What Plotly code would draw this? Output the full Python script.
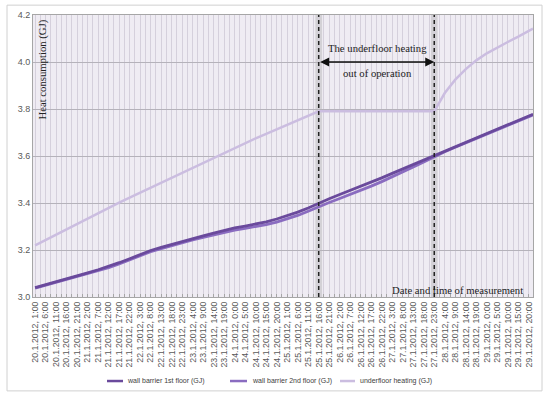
import plotly.graph_objects as go

# ---- data ----
tick_labels = [
    "20.1.2012, 1:00", "20.1.2012, 6:00", "20.1.2012, 11:00", "20.1.2012, 16:00", "20.1.2012, 21:00",
    "21.1.2012, 2:00", "21.1.2012, 7:00", "21.1.2012, 12:00", "21.1.2012, 17:00", "21.1.2012, 22:00",
    "22.1.2012, 3:00", "22.1.2012, 8:00", "22.1.2012, 13:00", "22.1.2012, 18:00", "22.1.2012, 23:00",
    "23.1.2012, 4:00", "23.1.2012, 9:00", "23.1.2012, 14:00", "23.1.2012, 19:00", "24.1.2012, 0:00",
    "24.1.2012, 5:00", "24.1.2012, 10:00", "24.1.2012, 15:00", "24.1.2012, 20:00", "25.1.2012, 1:00",
    "25.1.2012, 6:00", "25.1.2012, 11:00", "25.1.2012, 16:00", "25.1.2012, 21:00", "26.1.2012, 2:00",
    "26.1.2012, 7:00", "26.1.2012, 12:00", "26.1.2012, 17:00", "26.1.2012, 22:00", "27.1.2012, 3:00",
    "27.1.2012, 8:00", "27.1.2012, 13:00", "27.1.2012, 18:00", "27.1.2012, 23:00", "28.1.2012, 4:00",
    "28.1.2012, 9:00", "28.1.2012, 14:00", "28.1.2012, 19:00", "29.1.2012, 0:00", "29.1.2012, 5:00",
    "29.1.2012, 10:00", "29.1.2012, 15:00", "29.1.2012, 20:00",
]
tick_hours = [0, 5, 10, 15, 20, 25, 30, 35, 40, 45, 50, 55, 60, 65, 70, 75, 80, 85, 90, 95,
              100, 105, 110, 115, 120, 125, 130, 135, 140, 145, 150, 155, 160, 165, 170, 175,
              180, 185, 190, 195, 200, 205, 210, 215, 220, 225, 230, 235]

# hours since 20.1.2012 1:00 for the sampled measurements
hours = tick_hours + [237]

wall_1st = [3.040, 3.052, 3.065, 3.078, 3.090, 3.103, 3.116, 3.130, 3.146, 3.163,
            3.181, 3.198, 3.211, 3.224, 3.236, 3.248, 3.260, 3.272, 3.284, 3.294,
            3.302, 3.310, 3.320, 3.332, 3.346, 3.361, 3.379, 3.400, 3.418, 3.436,
            3.453, 3.470, 3.488, 3.507, 3.526, 3.545, 3.564, 3.583, 3.602, 3.621,
            3.640, 3.659, 3.678, 3.697, 3.716, 3.735, 3.754, 3.771, 3.778]
wall_2nd = [3.038, 3.050, 3.062, 3.074, 3.086, 3.098, 3.111, 3.125, 3.141, 3.158,
            3.176, 3.193, 3.206, 3.219, 3.231, 3.243, 3.254, 3.265, 3.276, 3.285,
            3.292, 3.299, 3.308, 3.319, 3.332, 3.347, 3.365, 3.385, 3.402, 3.419,
            3.436, 3.454, 3.472, 3.491, 3.511, 3.532, 3.553, 3.575, 3.598, 3.618,
            3.637, 3.656, 3.675, 3.694, 3.713, 3.732, 3.751, 3.768, 3.775]
underfloor = [3.220, 3.243, 3.266, 3.289, 3.312, 3.334, 3.357, 3.380, 3.402, 3.423,
              3.444, 3.465, 3.486, 3.507, 3.528, 3.549, 3.570, 3.594, 3.614, 3.634,
              3.655, 3.675, 3.694, 3.713, 3.733, 3.752, 3.771, 3.790, 3.790, 3.790,
              3.790, 3.790, 3.790, 3.790, 3.790, 3.790, 3.790, 3.790, 3.790, 3.868,
              3.925, 3.970, 4.007, 4.037, 4.062, 4.085, 4.108, 4.130, 4.142]

legend_names = ["wall barrier 1st floor (GJ)", "wall barrier 2nd floor (GJ)", "underfloor heating (GJ)"]

off_start, off_end = 135, 190  # underfloor heating out of operation

c1 = "#6a4a9c"
c2 = "#8a6cc0"
c3 = "#cbbde0"
colors = [c1, c2, c3]

fig = go.Figure()
fig.add_trace(go.Scatter(x=hours, y=underfloor, mode="lines", name=legend_names[2],
                         line=dict(color=c3, width=2.5)))
fig.add_trace(go.Scatter(x=hours, y=wall_2nd, mode="lines", name=legend_names[1],
                         line=dict(color=c2, width=2.8)))
fig.add_trace(go.Scatter(x=hours, y=wall_1st, mode="lines", name=legend_names[0],
                         line=dict(color=c1, width=2.8)))

shapes = [
    # outer frame
    dict(type="rect", xref="paper", yref="paper", x0=-0.052, x1=1.018, y0=-0.333, y1=1.035,
         line=dict(color="#d0d0d0", width=1), fillcolor="rgba(0,0,0,0)", layer="below"),
]
for h in (off_start, off_end):
    shapes.append(dict(type="rect", xref="x", yref="paper", x0=h - 1.6, x1=h + 1.6, y0=0, y1=1,
                       fillcolor="rgba(170,170,170,0.4)", line=dict(width=0), layer="below"))
    shapes.append(dict(type="line", xref="x", yref="paper", x0=h, x1=h, y0=0, y1=1,
                       line=dict(color="#222222", width=1.5, dash="4px,3px"), layer="above"))

# manual legend (short line samples like the original)
leg_y = -0.298
leg_line_x = [(0.148, 0.180), (0.394, 0.428), (0.614, 0.644)]
leg_text_x = [0.184, 0.434, 0.650]
for (x0, x1), col in zip(leg_line_x, colors):
    shapes.append(dict(type="line", xref="paper", yref="paper", x0=x0, x1=x1, y0=leg_y, y1=leg_y,
                       line=dict(color=col, width=2.5)))
fig.update_layout(shapes=shapes)
for tx, name in zip(leg_text_x, legend_names):
    fig.add_annotation(x=tx, y=leg_y, xref="paper", yref="paper", text=name, showarrow=False,
                       xanchor="left", yanchor="middle",
                       font=dict(family="Liberation Sans, Arial, sans-serif", size=7, color="#404040"))

serif = "Liberation Serif, DejaVu Serif, serif"
fig.add_annotation(x=off_end, y=4.0, ax=off_start, ay=4.0, xref="x", yref="y", axref="x", ayref="y",
                   text="", showarrow=True, arrowside="end+start", arrowhead=2, arrowsize=1.2,
                   arrowwidth=1.5, arrowcolor="#111111", standoff=0, startstandoff=0)
fig.add_annotation(x=163, y=4.06, xref="x", yref="y", text="The underfloor heating", showarrow=False,
                   font=dict(family=serif, size=10.7, color="#222222"))
fig.add_annotation(x=163, y=3.955, xref="x", yref="y", text="out of operation", showarrow=False,
                   font=dict(family=serif, size=10.7, color="#222222"))
fig.add_annotation(x=201, y=3.03, xref="x", yref="y", text="Date and time of measurement", showarrow=False,
                   font=dict(family=serif, size=10.7, color="#222222"))
fig.add_annotation(x=3.5, y=3.97, xref="x", yref="y", text="Heat consumption (GJ)", showarrow=False,
                   textangle=-90, font=dict(family=serif, size=10.7, color="#222222"))

fig.update_layout(
    width=550, height=397,
    margin=dict(l=33, r=17, t=15, b=100),
    paper_bgcolor="white",
    plot_bgcolor="#efecf3",
    font=dict(family="Liberation Sans, Arial, sans-serif", size=8, color="#595959"),
    showlegend=False,
    xaxis=dict(
        range=[-1, 237], tickmode="array", tickvals=tick_hours, ticktext=tick_labels,
        tickangle=-90, tickfont=dict(size=8.8, color="#595959"),
        showgrid=True, gridcolor="#d5d0dc", gridwidth=1,
        minor=dict(tick0=2.5, dtick=5, showgrid=True, gridcolor="#d5d0dc", gridwidth=1,
                   ticks="inside", ticklen=3, tickcolor="#a6a6a6"),
        ticks="inside", ticklen=3, tickcolor="#a6a6a6",
        showline=True, linecolor="#a6a6a6", linewidth=1, mirror=True, zeroline=False,
        automargin=False,
    ),
    yaxis=dict(
        range=[3.0, 4.2], tickvals=[3.0, 3.2, 3.4, 3.6, 3.8, 4.0, 4.2], tickformat=".1f",
        tickfont=dict(size=9, color="#595959"),
        showgrid=True, gridcolor="#b5b2ba", gridwidth=1,
        showline=True, linecolor="#a6a6a6", linewidth=1, mirror=True, zeroline=False,
        automargin=False,
    ),
)

fig.write_html("out.html", config={"displayModeBar": False},
               post_script="document.body.style.margin='0';document.body.style.padding='0';")
